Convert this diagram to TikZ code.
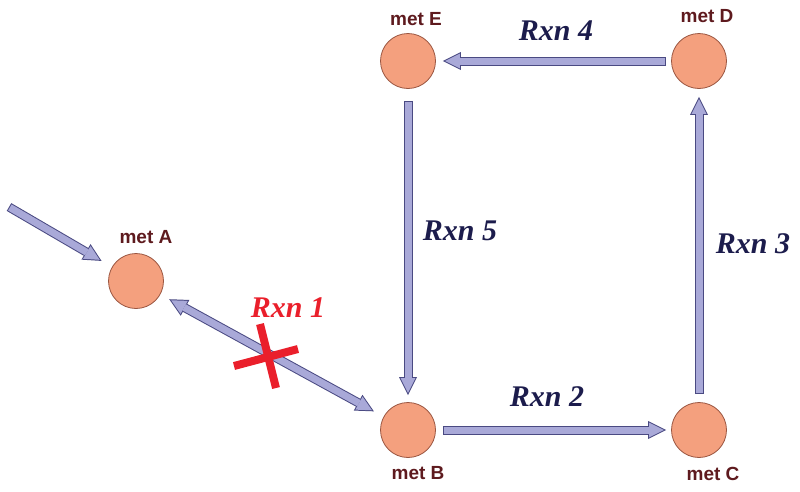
\documentclass[tikz,border=0pt]{standalone}
\usepackage{fontspec}
\setmainfont{Liberation Serif}
\setsansfont{Liberation Sans}
\usetikzlibrary{arrows.meta}
\definecolor{metfill}{HTML}{F4A07E}
\definecolor{metline}{HTML}{9A5540}
\definecolor{metname}{HTML}{5E1A1E}
\definecolor{rxnfill}{HTML}{A9A9D8}
\definecolor{rxnline}{HTML}{4A4A82}
\definecolor{rxnname}{HTML}{1C1C4C}
\definecolor{knockout}{HTML}{EA1F2B}
\tikzset{
  met/.style={circle,fill=metfill,draw=metline,line width=0.8pt,minimum size=55pt,inner sep=0pt},
  metlabel/.style={font=\sffamily\bfseries\fontsize{19}{19}\selectfont,text=metname,anchor=base,inner sep=0pt},
  rxnlabel/.style={font=\bfseries\itshape\fontsize{30}{30}\selectfont,text=rxnname,anchor=base,inner sep=0pt},
  rxnouter/.style={draw=rxnline,line width=9pt},
  rxninner/.style={draw=rxnfill,line width=7pt},
  outertip/.tip={Triangle[length=18pt,width=18pt,line width=0pt]},
  innertip/.tip={Triangle[length=14.8pt,width=14.8pt,line width=0pt]}
}
\begin{document}
\begin{tikzpicture}[x=1pt,y=-1pt]
    \useasboundingbox (0,0) rectangle (800,491);
    % metabolites
    \foreach \pos/\name in {{(136,281)/A}, {(408,430)/B}, {(699,430)/C},
                            {(699,61)/D}, {(408,61)/E}}
        \node[met] (\name) at \pos {};
    \foreach \pos/\name in {{(146,243)/A}, {(418,479)/B}, {(713,480)/C},
                            {(707,22)/D}, {(416,25)/E}}
        \node[metlabel] (l\name) at \pos {met \name};
    \coordinate (feed) at (9,207);

    % reactions
    \foreach \source/\dest/\from/\gap in {feed/A/0/12, B/C/7/5, C/D/8/8, D/E/5/7, E/B/12/7}
    {
        \path[rxnouter,-outertip,shorten <=\from pt,shorten >=\gap pt] (\source) -- (\dest);
        \path[rxninner,-innertip,shorten <=\from pt+1pt,shorten >=\gap pt+2.2pt] (\source) -- (\dest);
    }
    \path[rxnouter,outertip-outertip,shorten >=11pt,shorten <=10pt] (A) -- (B);
    \path[rxninner,innertip-innertip,shorten >=13.2pt,shorten <=12.2pt] (A) -- (B);

    \node[rxnlabel,text=knockout] (r1) at (288,317) {Rxn 1};
    \node[rxnlabel] (r2) at (547,406) {Rxn 2};
    \node[rxnlabel] (r3) at (753,253) {Rxn 3};
    \node[rxnlabel] (r4) at (556,40) {Rxn 4};
    \node[rxnlabel] (r5) at (460,240) {Rxn 5};

    % knocked out
    \draw[knockout,line width=8pt] (234,366) -- (298,349);
    \draw[knockout,line width=8pt] (260,324) -- (276,388);
\end{tikzpicture}
\end{document}
